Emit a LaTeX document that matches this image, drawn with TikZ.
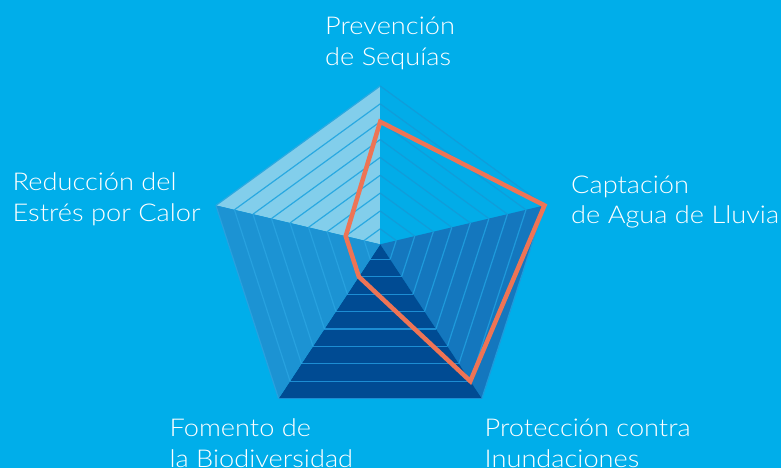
\documentclass[tikz,border=0pt]{standalone}
\usepackage{fontspec}
\setmainfont{Lato Light}[FakeStretch=1.11]
\usetikzlibrary{calc}
\definecolor{bg}{HTML}{00AEEA}
\definecolor{cTL}{HTML}{82CEEB}
\definecolor{cTR}{HTML}{02ACE8}
\definecolor{cR}{HTML}{1477BE}
\definecolor{cB}{HTML}{004B93}
\definecolor{cL}{HTML}{1C93D3}
\definecolor{hTL}{HTML}{2AA9E1}
\definecolor{hTR}{HTML}{109DDA}
\definecolor{hR}{HTML}{1E9ADB}
\definecolor{hB}{HTML}{1C8DD3}
\definecolor{hL}{HTML}{27A1DF}
\definecolor{accent}{HTML}{EE7455}
\begin{document}
\begin{tikzpicture}[x=1pt,y=-1pt,
  hatch/.style={line width=1.2pt},
  lbl/.style={anchor=base west,inner sep=0pt,text=white,font=\fontsize{24.5}{31}\selectfont},
  rating/.style={draw=accent,line width=4.5pt,line join=miter}]
\fill[bg] (0,0) rectangle (781,468);
\useasboundingbox (0,0) rectangle (781,468);
% geometry
\coordinate (A) at (380.2,244.3);
\coordinate (T) at (380.2,86.0);
\coordinate (UR) at (544.5,205.4);
\coordinate (LR) at (481.8,398.6);
\coordinate (LL) at (278.6,398.6);
\coordinate (UL) at (215.9,205.4);
% sectors
\fill[cTL] (A) -- (T) -- (UL) -- cycle;
\fill[cTR] (A) -- (T) -- (UR) -- cycle;
\fill[cR] (A) -- (UR) -- (LR) -- cycle;
\fill[cB] (A) -- (LR) -- (LL) -- cycle;
\fill[cL] (A) -- (LL) -- (UL) -- cycle;
% hatch lines
\foreach \k [evaluate=\k as \t using 1-0.1128*\k] in {0,...,8} {
  \draw[hatch,hTL] ($(A)!\t!(T)$) -- ($(A)!\t!(UL)$);
  \draw[hatch,hTR] ($(A)!\t!(T)$) -- ($(A)!\t!(UR)$);
  \draw[hatch,hR] ($(A)!\t!(UR)$) -- ($(A)!\t!(LR)$);
  \draw[hatch,hB] ($(A)!\t!(LR)$) -- ($(A)!\t!(LL)$);
  \draw[hatch,hL] ($(A)!\t!(LL)$) -- ($(A)!\t!(UL)$);
}
% rating polygon
\coordinate (pT) at ($(A)!0.774!(T)$);
\coordinate (pUR) at (UR);
\coordinate (pLR) at ($(A)!0.887!(LR)$);
\coordinate (pLL) at ($(A)!0.21!(LL)$);
\coordinate (pUL) at ($(A)!0.21!(UL)$);
\draw[rating] (pT) -- (pUR) -- (pLR) -- (pLL) -- (pUL) -- cycle;
% labels
\node[lbl] (l1a) at (325,34.3) {Prevención};
\node[lbl] (l1b) at (325,65.7) {de Sequías};
\node[lbl] (l2a) at (571,193) {Captación};
\node[lbl] (l2b) at (571,223.8) {de Agua de Lluvia};
\node[lbl] (l3a) at (484.5,436) {Protección contra};
\node[lbl] (l3b) at (484.5,467.2) {Inundaciones};
\node[lbl] (l4a) at (169.5,436) {Fomento de};
\node[lbl] (l4b) at (169.5,467.2) {la Biodiversidad};
\node[lbl] (l5a) at (12.5,190) {Reducción del};
\node[lbl] (l5b) at (12.5,221.7) {Estrés por Calor};
\end{tikzpicture}
\end{document}
